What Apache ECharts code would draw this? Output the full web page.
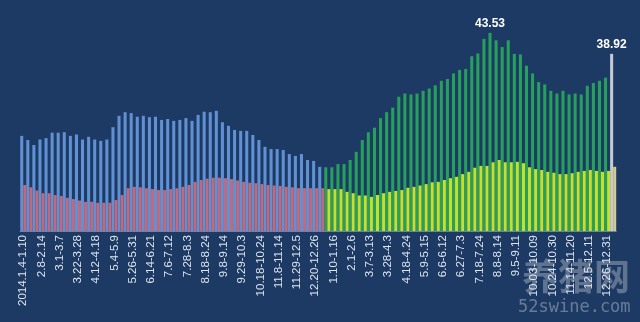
<!DOCTYPE html>
<html>
<head>
<meta charset="utf-8">
<script src="https://cdn.jsdelivr.net/npm/echarts@6/dist/echarts.min.js"></script>
<style>
html,body{margin:0;padding:0;background:#1c3a63;}
#c{width:640px;height:322px;}
</style>
</head>
<body>
<div id="c"></div>
<script>
// Week categories (every third one is labelled on the axis)
const categories = [
  '2014.1.4-1.10','1.11-1.17','1.18-1.24','2.8-2.14','2.15-2.21','2.22-2.28',
  '3.1-3.7','3.8-3.14','3.15-3.21','3.22-3.28','3.29-4.4','4.5-4.11',
  '4.12-4.18','4.19-4.25','4.26-5.3','5.4-5.9','5.10-5.16','5.17-5.25',
  '5.26-5.31','6.1-6.7','6.8-6.13','6.14-6.21','6.22-6.28','6.29-7.5',
  '7.6-7.12','7.13-7.19','7.20-7.27','7.28-8.3','8.4-8.10','8.11-8.17',
  '8.18-8.24','8.25-8.31','9.1-9.7','9.8-9.14','9.15-9.21','9.22-9.28',
  '9.29-10.3','10.4-10.10','10.11-10.17','10.18-10.24','10.25-10.31','11.1-11.7',
  '11.8-11.14','11.15-11.21','11.22-11.28','11.29-12.5','12.6-12.12','12.13-12.19',
  '12.20-12.26','12.27-1.2',
  '1.3-1.9','1.10-1.16','1.17-1.23','1.24-1.31','2.1-2.6','2.7-2.13',
  '2.28-3.6','3.7-3.13','3.14-3.20','3.21-3.27','3.28-4.3','4.4-4.10',
  '4.11-4.17','4.18-4.24','4.25-5.1','5.2-5.8','5.9-5.15','5.16-5.22',
  '5.30-6.5','6.6-6.12','6.13-6.19','6.20-6.26','6.27-7.3','7.4-7.10',
  '7.11-7.17','7.18-7.24','7.25-7.31','8.1-8.7','8.8-8.14','8.15-8.21',
  '8.22-9.4','9.5-9.11','9.12-9.18','9.19-10.2','10.03-10.09','10.10-10.16',
  '10.17-10.23','10.24-10.30','10.31-11.6','11.7-11.13','11.14-11.20','11.21-11.27',
  '11.28-12.4','12.5-12.11','12.12-12.18','12.19-12.25','12.26-12.31','2016.1.1-1.7'
];

// Upper (taller) series values
const totalValues = [
  20.9,20.0,18.9,20.1,20.4,21.6,21.6,21.7,20.9,21.2,20.1,20.7,
  20.1,19.8,20.1,22.8,25.3,26.1,25.9,25.1,25.3,25.0,25.1,24.4,
  24.6,24.2,24.4,24.8,24.2,25.5,26.2,26.1,26.4,23.9,23.1,22.2,
  22.0,22.0,21.1,20.0,18.5,18.0,18.0,17.8,16.9,16.5,16.9,15.6,
  15.4,14.1,
  14.0,14.0,14.7,14.7,15.6,17.4,20.0,21.7,22.7,24.8,26.1,27.1,
  29.5,30.2,30.0,30.2,30.8,31.3,32.0,33.0,33.4,34.6,35.4,35.6,
  38.4,39.0,42.2,43.53,41.9,40.4,41.9,38.9,38.8,36.3,34.6,32.7,
  32.2,30.8,30.2,30.8,30.0,30.2,30.0,31.9,32.5,33.0,33.7,38.92
];

// Lower series values
const lowerValues = [
  10.1,9.6,8.9,8.3,8.3,7.9,7.7,7.3,7.0,6.7,6.4,6.4,
  6.2,6.2,6.2,6.8,7.9,9.4,9.7,9.6,9.4,9.2,9.0,9.0,
  9.2,9.4,9.7,10.1,10.8,11.2,11.5,11.7,11.7,11.6,11.4,11.1,
  10.8,10.6,10.5,10.3,10.1,10.0,9.9,9.7,9.6,9.4,9.4,9.4,
  9.4,9.4,
  9.2,9.2,9.2,8.6,8.3,7.8,7.8,7.5,7.9,8.3,8.6,8.8,
  9.0,9.5,9.7,10.0,10.3,10.7,10.8,11.2,11.6,11.9,12.5,13.0,
  13.9,14.3,14.3,15.1,15.6,15.1,15.1,15.2,14.9,14.0,13.6,13.4,
  13.0,12.8,12.5,12.5,12.7,13.0,13.2,13.4,13.2,13.0,13.2,14.1
];

const firstYearCount = 50; // bars of 2014

const upperColors = ['#6191d3', '#27a05c', '#c6cad2'];
const lowerColors = ['#c1697f', '#c6de2e', '#d6ca8c'];

function period(i) {
  if (i === categories.length - 1) return 2;
  return i < firstYearCount ? 0 : 1;
}

let maxIdx = 0;
totalValues.forEach((v, i) => { if (v > totalValues[maxIdx]) maxIdx = i; });
const lastIdx = totalValues.length - 1;

const upperData = totalValues.map((v, i) => ({
  value: v,
  itemStyle: { color: upperColors[period(i)] },
  label: (i === maxIdx || i === lastIdx) ? {
    show: true, position: 'top', distance: 3,
    color: '#ffffff', fontWeight: 'bold', fontSize: 12,
    fontFamily: 'Liberation Sans, Arial, sans-serif',
    formatter: (p) => p.value.toFixed(2)
  } : { show: false }
}));

const lowerData = lowerValues.map((v, i) => ({
  value: v,
  itemStyle: { color: lowerColors[period(i)] }
}));

const chart = echarts.init(document.getElementById('c'), null, { renderer: 'canvas' });
chart.setOption({
  backgroundColor: '#1c3a63',
  animation: false,
  grid: { left: 20.2, right: 23.8, top: 12.5, bottom: 91 },
  xAxis: {
    type: 'category',
    data: categories,
    boundaryGap: true,
    axisTick: { show: false },
    axisLine: { show: true, lineStyle: { color: '#6f82a6', width: 1 } },
    axisLabel: {
      interval: 2, rotate: 90, margin: 4,
      color: '#dfe5ef', fontSize: 11.5,
      fontFamily: 'Liberation Sans, Arial, sans-serif'
    }
  },
  yAxis: {
    type: 'value', min: 0, max: 48,
    show: false,
    splitLine: { show: false }
  },
  series: [
    { name: 'upper', type: 'bar', data: upperData, barGap: '0%', barCategoryGap: '0%' },
    { name: 'lower', type: 'bar', data: lowerData, barGap: '0%', barCategoryGap: '0%' }
  ],
  graphic: [
    {
      type: 'text', left: 522, top: 258, silent: true,
      style: {
        text: '养猪网', fill: 'rgba(200,205,215,0.4)',
        font: 'bold 36px "Noto Sans CJK SC", sans-serif'
      }
    },
    {
      type: 'text', left: 518, top: 299, silent: true,
      style: {
        text: '52swine.com', fill: 'rgba(200,205,215,0.45)',
        font: '17px "DejaVu Sans Mono", monospace'
      }
    }
  ]
});
</script>
</body>
</html>
